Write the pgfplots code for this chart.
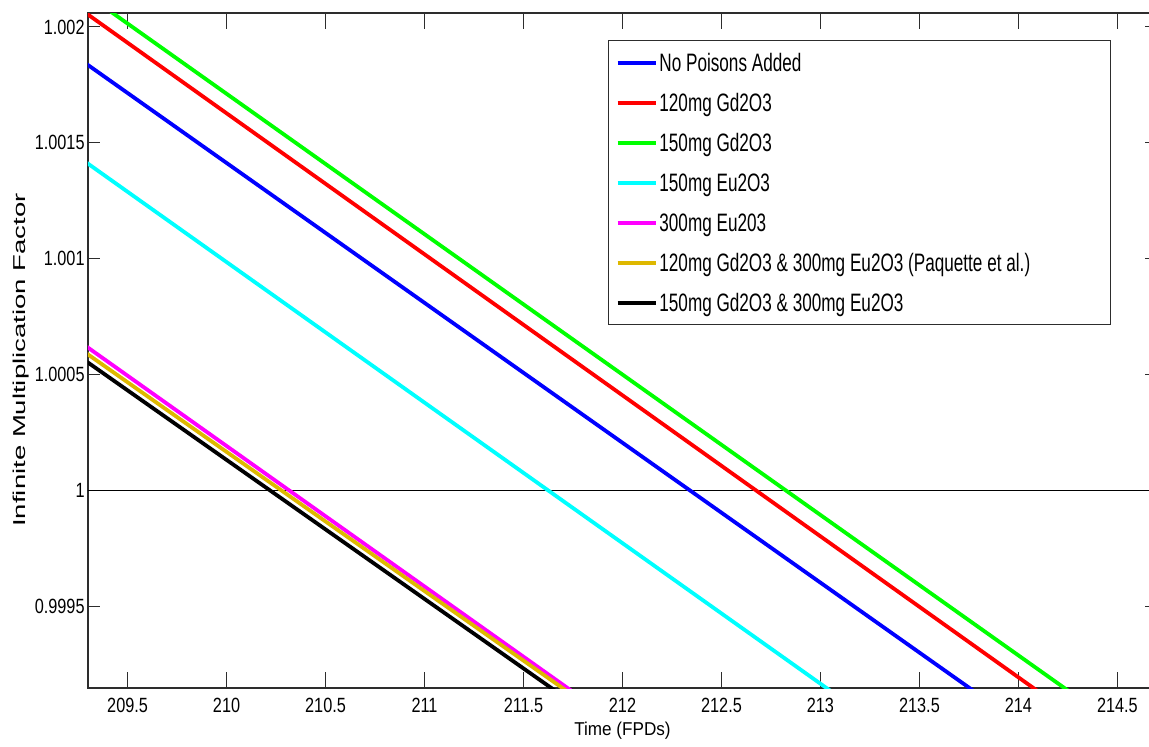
\documentclass[border=0pt]{standalone}
\usepackage{fontspec}
\setmainfont{Liberation Sans}
\newfontfamily\tickfont{Liberation Sans}[FakeStretch=0.79]
\newfontfamily\legfont{Liberation Sans}[FakeStretch=0.68]
\newfontfamily\xlabfont{Liberation Sans}[FakeStretch=0.92]
\newfontfamily\ylabfont{Liberation Sans}[FakeStretch=1.6]
\newcommand{\legfontsel}{\legfont\fontsize{12.6pt}{14pt}\selectfont}
\newcommand{\xlabfontsel}{\xlabfont\fontsize{9.3pt}{11pt}\selectfont}
\newcommand{\wsp}{\hspace{2.4pt}}
\usepackage{pgfplots}
\pgfplotsset{compat=1.18}
\definecolor{myyellow}{RGB}{222,184,0}
\definecolor{mycyan}{RGB}{0,255,255}
\definecolor{mymagenta}{RGB}{255,0,255}
\definecolor{mygreen}{RGB}{0,255,0}
\definecolor{myblue}{RGB}{0,0,255}
\definecolor{myred}{RGB}{255,0,0}
\definecolor{axgray}{RGB}{45,45,45}
\begin{document}
\begin{tikzpicture}
\begin{axis}[
  width=534.5pt, height=337.5pt, scale only axis,
  xmin=209.3, xmax=214.7, ymin=0.99915, ymax=1.00206,
  xtick={209.5,210,210.5,211,211.5,212,212.5,213,213.5,214,214.5},
  xticklabels={209.5,210,210.5,211,211.5,212,212.5,213,213.5,214,214.5},
  ytick={0.9995,1,1.0005,1.001,1.0015,1.002},
  yticklabels={0.9995,1,1.0005,1.001,1.0015,1.002},
  tick align=inside,
  major tick length=6.8pt,
  xtick style={axgray, line width=0.5pt, /pgfplots/major tick length=7.85pt},
  ytick style={axgray, line width=0.5pt, /pgfplots/major tick length=5.85pt},
  axis line style={axgray, line width=0.8pt},
  tick label style={font=\tickfont\fontsize{10.3pt}{12pt}\selectfont, inner sep=1.5pt},
  xticklabel style={yshift=-3.5pt},
  xlabel={Time\wsp(FPDs)},
  xlabel style={font=\xlabfontsel, at={(axis description cs:0.5,0)}, anchor=base, yshift=-23.5pt},
  ylabel={Infinite Multiplication Factor},
  ylabel style={font=\ylabfont\fontsize{8.6pt}{10pt}\selectfont, at={(axis description cs:-0.0627,0.486)}, anchor=center, rotate=0},
  legend cell align=left,
  legend image code/.code={\draw[#1, line width=1.9pt] (0pt,0pt) -- (19pt,0pt);},
  legend style={at={(axis description cs:0.957,0.96)}, anchor=north east,
    draw=axgray, line width=0.6pt, fill=white,
    inner xsep=3.5pt, inner ysep=1pt, row sep=0pt, column sep=1pt,
    font=\legfontsel,
    nodes={inner sep=0pt, text height=14.4pt, text depth=5.6pt, text width=222pt, align=left}},
]
\addplot[black, line width=0.6pt, forget plot] coordinates {(209.2,1) (214.8,1)};
\addplot[myblue, line width=1.9pt] coordinates {(209.2,1.001896) (213.836,0.99910)};
\addlegendentry{No\wsp Poisons\wsp Added}
\addplot[myred, line width=1.9pt] coordinates {(209.2,1.002114) (214.158,0.99910)};
\addlegendentry{120mg\wsp Gd2O3}
\addplot[mygreen, line width=1.9pt] coordinates {(209.2,1.002196) (214.315,0.99910)};
\addlegendentry{150mg\wsp Gd2O3}
\addplot[mycyan, line width=1.9pt] coordinates {(209.2,1.001471) (213.113,0.99910)};
\addlegendentry{150mg\wsp Eu2O3}
\addplot[mymagenta, line width=1.9pt] coordinates {(209.2,1.000678) (211.805,0.99910)};
\addlegendentry{300mg\wsp Eu203}
\addplot[myyellow, line width=1.9pt] coordinates {(209.2,1.000648) (211.780,0.99910)};
\addlegendentry{120mg\wsp Gd2O3\wsp\&\wsp 300mg\wsp Eu2O3\wsp(Paquette\wsp et\wsp al.)}
\addplot[black, line width=1.9pt] coordinates {(209.2,1.000613) (211.724,0.99910)};
\addlegendentry{150mg\wsp Gd2O3\wsp\&\wsp 300mg\wsp Eu2O3}
\end{axis}
\pgfresetboundingbox
\useasboundingbox (-44pt,-29pt) rectangle (530.5pt,344pt);
\end{tikzpicture}
\end{document}
